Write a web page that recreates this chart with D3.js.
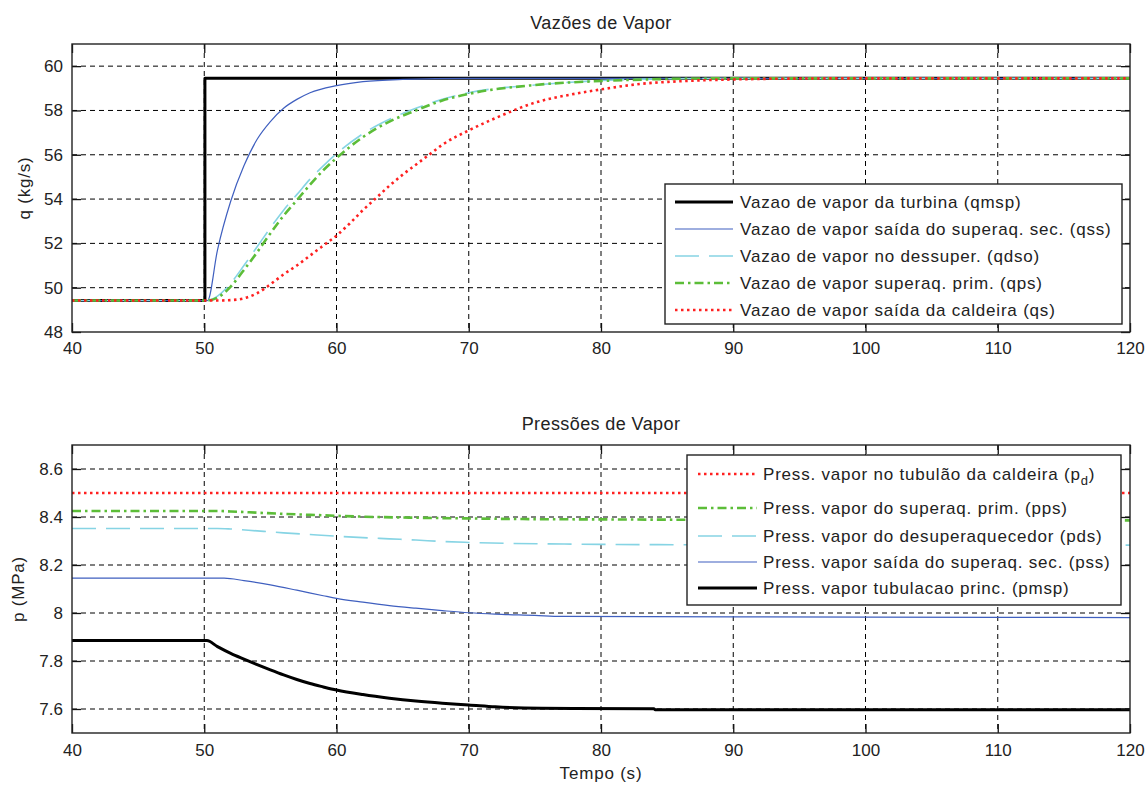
<!DOCTYPE html>
<html><head><meta charset="utf-8">
<script src="https://cdn.jsdelivr.net/npm/d3@7"></script>
<style>
html,body{margin:0;padding:0;background:#fff;}
svg{display:block;font-family:"Liberation Sans",Arial,Helvetica,sans-serif;}
</style></head>
<body>
<svg id="c" width="1145" height="785"></svg>
<script>
// ---------- DATA ----------
const xTicks = [40,50,60,70,80,90,100,110,120];
const qTicks = [48,50,52,54,56,58,60];
const pTicks = [7.6,7.8,8,8.2,8.4,8.6];
const pTickLabels = ["7.6","7.8","8","8.2","8.4","8.6"];

// Top: flows (kg/s)  [time, value]
const qmsp = [[40,49.42],[50.05,49.42],[50.05,59.45],[120,59.45]];
const qss  = [[40,49.42],[50.25,49.42],[51,51.7],[52,53.9],[53,55.5],[54,56.7],[55,57.5],[56,58.1],[57,58.5],[58,58.8],[60,59.12],[62,59.3],[65,59.4],[70,59.45],[120,59.45]];
const qdso = [[40,49.42],[50.2,49.42],[51,49.62],[52,50.2],[53,51.0],[54,51.85],[55,52.7],[56,53.5],[57,54.2],[58,54.9],[59,55.5],[60,56.05],[62,56.95],[64,57.6],[66,58.1],[68,58.5],[70,58.8],[75,59.15],[80,59.35],[85,59.43],[90,59.45],[120,59.45]];
const qps  = [[40,49.42],[50.2,49.42],[51,49.55],[52,50.05],[53,50.8],[54,51.6],[55,52.45],[56,53.25],[57,53.95],[58,54.65],[59,55.3],[60,55.85],[62,56.8],[64,57.5],[66,58.0],[68,58.45],[70,58.75],[75,59.15],[80,59.33],[85,59.42],[90,59.45],[120,59.45]];
const qs   = [[40,49.42],[51,49.42],[52,49.44],[53,49.52],[54,49.75],[55,50.15],[56,50.6],[57,51.0],[58,51.45],[59,51.9],[60,52.35],[61,52.9],[62,53.5],[63,54.05],[64,54.6],[65,55.1],[66,55.55],[67,56.0],[68,56.45],[70,57.1],[72,57.65],[75,58.35],[78,58.75],[80,58.95],[83,59.2],[86,59.32],[90,59.4],[95,59.44],[100,59.45],[120,59.45]];

// Bottom: pressures (MPa)
const pd   = [[40,8.5],[120,8.5]];
const pps  = [[40,8.425],[51,8.425],[52,8.423],[54,8.418],[56,8.413],[58,8.409],[60,8.405],[63,8.400],[66,8.397],[70,8.394],[75,8.391],[80,8.390],[90,8.388],[120,8.386]];
const pds  = [[40,8.352],[51,8.352],[52,8.350],[54,8.342],[56,8.334],[58,8.327],[60,8.320],[62,8.314],[64,8.309],[66,8.304],[68,8.298],[70,8.294],[73,8.290],[76,8.288],[80,8.286],[90,8.284],[120,8.283]];
const pss  = [[40,8.145],[51.5,8.145],[53,8.135],[55,8.117],[57,8.095],[59,8.072],[60,8.061],[62,8.045],[64,8.031],[66,8.020],[68,8.010],[70,8.001],[72,7.995],[75,7.990],[77,7.986],[90,7.984],[110,7.982],[120,7.981]];
const pmsp = [[40,7.885],[50.2,7.885],[51,7.86],[52,7.832],[53,7.808],[54,7.785],[55,7.763],[56,7.742],[57,7.723],[58,7.706],[59,7.692],[60,7.679],[62,7.660],[64,7.645],[66,7.633],[68,7.624],[70,7.617],[72,7.609],[75.5,7.603],[84,7.601],[84.1,7.597],[120,7.597]];

const topNames = ["Vazao de vapor da turbina (qmsp)","Vazao de vapor saída do superaq. sec. (qss)","Vazao de vapor no dessuper. (qdso)","Vazao de vapor superaq. prim. (qps)","Vazao de vapor saída da caldeira (qs)"];
const botNames = ["Press. vapor no tubulão da caldeira (p","Press. vapor do superaq. prim. (pps)","Press. vapor do desuperaquecedor (pds)","Press. vapor saída do superaq. sec. (pss)","Press. vapor tubulacao princ. (pmsp)"];

// ---------- STYLES ----------
const S = {
  black:{stroke:"#000",w:3,dash:null},
  blue:{stroke:"#3f5fbf",w:1.2,dash:null},
  cyan:{stroke:"#86d4e4",w:1.6,dash:"24,10"},
  green:{stroke:"#5cbd38",w:2.6,dash:"9,4,2.5,4"},
  red:{stroke:"#ff2020",w:2.6,dash:"2.5,3.5"}
};

const svg = d3.select("#c");
const L=72, R=1130;
const FS=17, LS="0.8px";

function panel(o){
  const g = svg.append("g");
  const x = d3.scaleLinear().domain([40,120]).range([L,R]);
  const y = d3.scaleLinear().domain(o.ydom).range([o.bottom,o.top]);
  const id = "clip"+o.key;
  svg.append("clipPath").attr("id",id).append("rect").attr("x",L).attr("y",o.top).attr("width",R-L).attr("height",o.bottom-o.top);
  // grid
  g.append("g").selectAll("line").data(xTicks.filter(d=>d>40&&d<120)).join("line")
   .attr("x1",d=>x(d)).attr("x2",d=>x(d)).attr("y1",o.top).attr("y2",o.bottom)
   .attr("stroke","#000").attr("stroke-width",1).attr("stroke-dasharray","5,4");
  g.append("g").selectAll("line").data(o.yticks.filter(d=>y(d)>o.top+1&&y(d)<o.bottom-1)).join("line")
   .attr("x1",L).attr("x2",R).attr("y1",d=>y(d)).attr("y2",d=>y(d))
   .attr("stroke","#000").attr("stroke-width",1).attr("stroke-dasharray","5,4");
  // series
  const lg = g.append("g").attr("clip-path",`url(#${id})`);
  o.series.forEach(s=>{
    const st=S[s.style];
    const line = d3.line().x(d=>x(d[0])).y(d=>y(d[1])).curve(s.linear?d3.curveLinear:d3.curveMonotoneX);
    lg.append("path").datum(s.data).attr("d",line).attr("fill","none")
      .attr("stroke",st.stroke).attr("stroke-width",st.w)
      .attr("stroke-dasharray",st.dash).attr("stroke-linejoin","round");
  });
  // axes
  const ax = g.append("g").attr("transform",`translate(0,${o.bottom})`)
    .call(d3.axisBottom(x).tickValues(xTicks).tickSize(-9).tickPadding(o.xpad).tickFormat(d3.format("d")));
  const axT = g.append("g").attr("transform",`translate(0,${o.top})`)
    .call(d3.axisTop(x).tickValues(xTicks).tickSize(-9).tickFormat(""));
  const ay = g.append("g").attr("transform",`translate(${L},0)`)
    .call(d3.axisLeft(y).tickValues(o.yticks).tickSize(-9).tickPadding(9).tickFormat(o.fmt));
  const ayR = g.append("g").attr("transform",`translate(${R},0)`)
    .call(d3.axisRight(y).tickValues(o.yticks).tickSize(-9).tickFormat(""));
  [ax,axT,ay,ayR].forEach(a=>{
    a.select(".domain").remove();
    a.selectAll(".tick line").attr("stroke","#111").attr("stroke-width",1.3);
    a.selectAll(".tick text").attr("font-size",FS).attr("fill","#222").attr("font-family","Liberation Sans, Arial, sans-serif");
  });
  // frame
  g.append("rect").attr("x",L).attr("y",o.top).attr("width",R-L).attr("height",o.bottom-o.top)
   .attr("fill","none").attr("stroke","#222").attr("stroke-width",1.4);
  // title
  g.append("text").attr("x",(L+R)/2).attr("y",o.top-15).attr("text-anchor","middle")
   .attr("font-size",18).attr("letter-spacing","0.4px").attr("fill","#222").text(o.title);
  // y label
  g.append("text").attr("transform",`translate(${o.ylabX},${(o.top+o.bottom)/2}) rotate(-90)`)
   .attr("text-anchor","middle").attr("dominant-baseline","middle").attr("font-size",FS)
   .attr("letter-spacing",LS).attr("fill","#222").text(o.ylabel);
  // legend
  const lgd = g.append("g");
  const b = o.legend;
  lgd.append("rect").attr("x",b.x0).attr("y",b.y0).attr("width",b.x1-b.x0).attr("height",b.y1-b.y0)
     .attr("fill","#fff").attr("stroke","#222").attr("stroke-width",1.4);
  o.series.forEach((s,i)=>{
    const st=S[s.style];
    const yy=b.rows[i];
    lgd.append("line").attr("x1",b.lx0).attr("x2",b.lx1).attr("y1",yy).attr("y2",yy)
      .attr("stroke",st.stroke).attr("stroke-width",st.w).attr("stroke-dasharray",st.dash);
    const t = lgd.append("text").attr("x",b.tx).attr("y",yy).attr("dy","0.35em")
      .attr("font-size",FS).attr("letter-spacing",LS).attr("fill","#222").text(s.name);
    if(s.sub){
      t.append("tspan").attr("font-size",13).attr("dy","5").text(s.sub);
      t.append("tspan").attr("dy","-5").text(")");
    }
  });
  return {x,y};
}

panel({
  key:"t", top:44, bottom:332, ydom:[48,61], yticks:qTicks, fmt:d3.format("d"), xpad:10,
  title:"Vazões de Vapor", ylabel:"q (kg/s)", ylabX:26,
  series:[
    {name:topNames[0],data:qmsp,style:"black",linear:true},
    {name:topNames[1],data:qss,style:"blue"},
    {name:topNames[2],data:qdso,style:"cyan"},
    {name:topNames[3],data:qps,style:"green"},
    {name:topNames[4],data:qs,style:"red"}
  ],
  legend:{x0:665,x1:1122,y0:184,y1:324,rows:[202,229,256,283,310],lx0:675,lx1:733,tx:740}
});

panel({
  key:"b", top:445, bottom:733, ydom:[7.5,8.7], yticks:pTicks, fmt:(d,i)=>pTickLabels[i], xpad:11,
  title:"Pressões de Vapor", ylabel:"p (MPa)", ylabX:20,
  series:[
    {name:botNames[0],sub:"d",data:pd,style:"red"},
    {name:botNames[1],data:pps,style:"green"},
    {name:botNames[2],data:pds,style:"cyan"},
    {name:botNames[3],data:pss,style:"blue"},
    {name:botNames[4],data:pmsp,style:"black"}
  ],
  legend:{x0:687,x1:1121,y0:455,y1:605,rows:[474,508,536,562,588],lx0:698,lx1:757,tx:763}
});

svg.append("text").attr("x",(L+R)/2).attr("y",775).attr("text-anchor","middle").attr("dominant-baseline","middle")
  .attr("font-size",FS).attr("letter-spacing",LS).attr("fill","#222").text("Tempo (s)");
</script>
</body></html>
